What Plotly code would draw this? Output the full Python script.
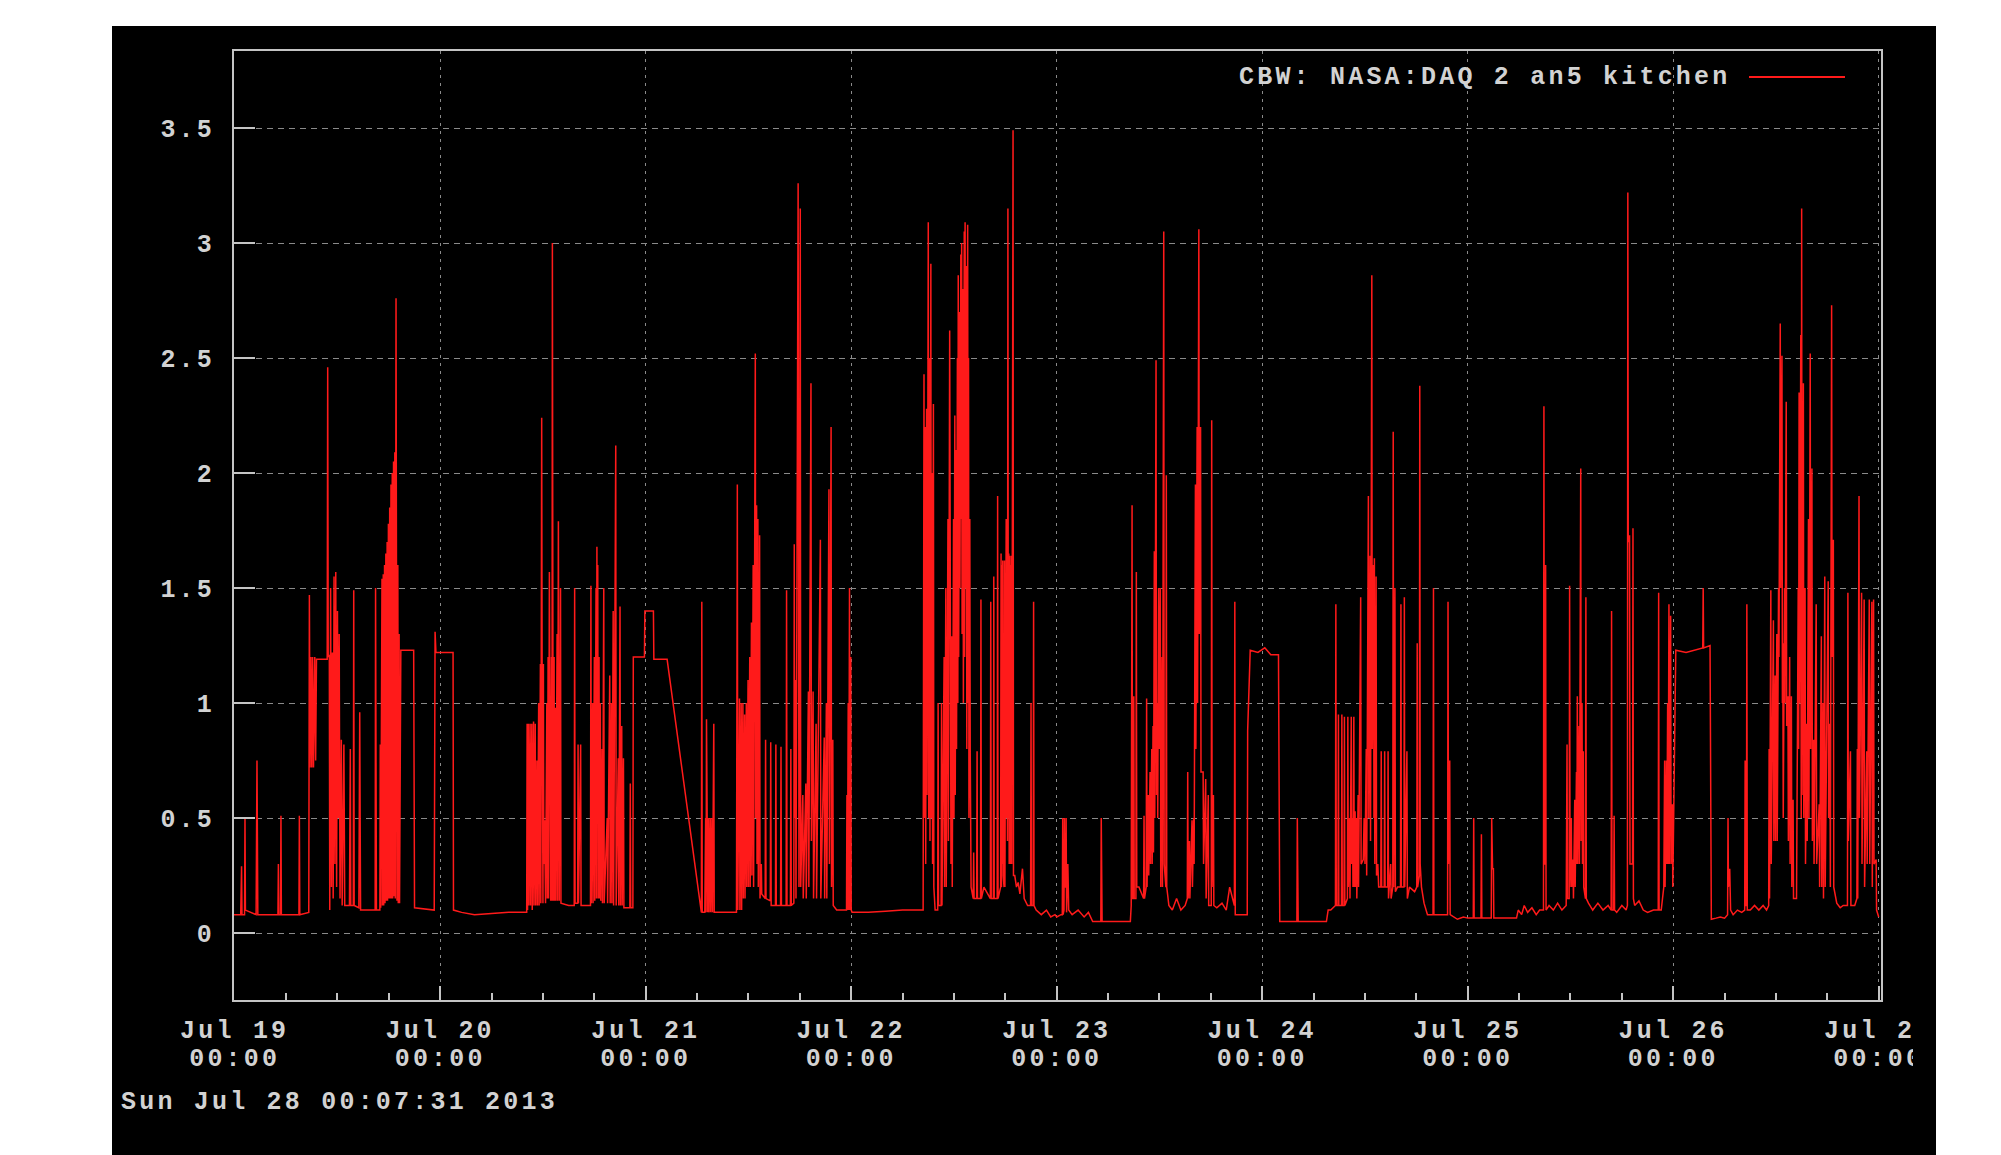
import plotly.graph_objects as go
import pandas as pd

# ---------------- data: (hours since Jul 19 00:00, value) ----------------
jul19 = [(-0.1,0.08),(0.7,0.08),(0.8,0.29),(0.85,0.08),(1.15,0.08),(1.2,0.5),(1.25,0.1),(2.5,0.08),(2.55,0.42),(2.6,0.75),(2.65,0.42),(2.7,0.08),
(5.05,0.08),(5.1,0.3),(5.15,0.08),(5.35,0.08),(5.4,0.51),(5.45,0.08),(7.5,0.08),(7.55,0.51),(7.6,0.08),
(8.65,0.09),(8.72,1.47),(8.8,0.72),(8.9,1.2),(9.0,0.72),(9.1,1.2),(9.2,0.72),(9.35,1.2),(9.45,0.75),(9.55,1.19),(10.8,1.19),(10.86,2.46),(10.92,1.2),(11.05,1.21),
(11.1,0.1),(11.2,1.5),(11.3,0.2),(11.4,1.22),(11.5,0.15),(11.6,1.55),(11.7,0.3),(11.8,1.57),(11.9,0.2),(12.0,1.4),(12.1,0.5),(12.2,1.3),(12.3,0.15),(12.45,0.84),(12.55,0.12),(12.75,0.82),(12.85,0.12),
(13.4,0.12),(13.5,0.8),(13.55,0.12),(13.85,0.12),(13.9,1.49),(13.95,0.12),(14.5,0.11),(14.6,0.96),(14.65,0.5),(14.7,0.1),(16.4,0.1),(16.45,1.5),(16.55,0.1),(16.95,0.1),(17.0,0.82),(17.05,0.11),
(17.2,1.54),(17.25,0.12),(17.35,1.56),(17.4,0.12),(17.5,1.6),(17.55,0.13),(17.65,1.65),(17.7,0.14),(17.8,1.7),(17.85,0.14),(17.95,1.78),(18.0,0.15),(18.1,1.85),(18.15,0.15),(18.25,1.95),(18.3,0.15),(18.4,2.0),(18.45,0.15),(18.55,2.05),(18.6,0.16),(18.7,2.09),(18.75,0.15),(18.84,2.76),(18.9,1.9),(18.95,0.14),(19.05,1.6),(19.1,0.13),(19.2,1.3),(19.25,0.13),(19.4,1.23),(20.9,1.23),(21.0,0.11),
(23.3,0.1),(23.4,1.31),(23.5,1.22),(25.5,1.22),(25.55,0.1)]

jul20 = [(26.5,0.09),(28.0,0.08),(30.0,0.085),(32.0,0.09),(34.1,0.09),
(34.15,0.91),(34.2,0.1),(34.3,0.91),(34.35,0.12),(34.5,0.91),(34.55,0.12),(34.7,0.91),(34.75,0.1),(34.9,0.92),(34.95,0.12),(35.1,0.91),(35.15,0.12),(35.3,0.75),(35.35,0.12),(35.5,1.0),(35.55,0.12),(35.7,1.17),(35.75,0.13),(35.85,2.24),(35.9,1.17),(36.0,0.13),(36.05,1.17),(36.1,0.3),(36.2,0.49),(36.3,0.13),(36.45,1.0),(36.5,0.15),(36.6,1.2),(36.65,0.15),(36.75,1.57),(36.8,1.2),(36.9,0.14),(37.0,1.2),(37.05,0.14),(37.1,3.0),(37.15,0.9),(37.2,0.14),(37.3,1.2),(37.35,0.14),(37.45,0.98),(37.5,0.14),(37.65,1.3),(37.7,0.14),(37.8,1.79),(37.85,0.9),(37.9,0.14),(38.05,1.5),(38.1,0.13),
(39.0,0.12),(39.65,0.12),(39.7,1.5),(39.75,0.13),(40.05,0.13),(40.1,0.82),(40.15,0.13),(40.4,0.82),(40.45,0.12),
(41.55,0.12),(41.6,1.51),(41.65,0.13),(41.8,1.0),(41.85,0.13),(42.0,1.2),(42.05,0.14),(42.2,1.5),(42.25,0.15),(42.3,1.68),(42.35,0.5),(42.4,1.6),(42.45,0.15),(42.55,1.2),(42.6,0.15),(42.7,1.0),(42.75,0.14),(42.9,0.8),(42.95,0.13),(43.1,1.5),(43.15,0.13),(43.5,0.5),(43.55,0.13),(43.8,1.12),(43.85,0.13),(44.0,1.0),(44.05,0.13),(44.2,1.4),(44.25,0.12),(44.5,2.12),(44.55,0.12),(44.8,0.76),(44.85,0.12),(45.0,1.42),(45.05,0.12),(45.2,0.9),(45.25,0.12),(45.4,0.76),(45.45,0.11),(46.15,0.11),(46.2,0.65),(46.25,0.11),(46.5,0.11),(46.55,1.2),(47.85,1.2),(47.9,1.4),(48.9,1.4),(48.95,1.19),(50.5,1.19)]

jul21 = [(54.5,0.09),(54.55,1.44),(54.6,0.09),(54.9,0.09),(55.0,0.5),(55.05,0.09),(55.1,0.93),(55.15,0.5),(55.25,0.09),(55.35,0.5),(55.4,0.09),(55.55,0.5),(55.6,0.09),(55.75,0.5),(55.8,0.09),(55.95,0.91),(56.0,0.09),(58.6,0.09),
(58.7,1.95),(58.75,0.1),(58.95,1.02),(59.0,0.1),(59.15,1.0),(59.2,0.1),(59.35,1.0),(59.4,0.15),(59.55,0.95),(59.6,0.15),(59.75,1.0),(59.8,0.2),(59.95,1.1),(60.0,0.2),(60.15,1.2),(60.2,0.2),(60.35,1.35),(60.4,0.25),(60.55,1.6),(60.6,0.2),(60.75,2.1),(60.8,2.52),(60.85,0.5),(60.95,1.86),(61.0,0.3),(61.1,1.8),(61.15,0.2),(61.3,1.73),(61.35,0.15),(61.5,0.3),(61.55,0.17),
(61.95,0.15),(62.0,0.84),(62.05,0.15),(62.55,0.14),(62.6,0.83),(62.65,0.12),(63.15,0.12),(63.2,0.82),(63.25,0.12),(63.75,0.12),(63.8,0.81),(63.85,0.12),(64.4,0.12),(64.45,1.49),(64.5,0.12),(64.9,0.12),(64.95,0.8),(65.0,0.12),(65.3,0.13),(65.35,1.69),(65.4,0.5),(65.5,1.1),(65.55,0.15),(65.8,3.26),(65.85,1.7),(65.9,0.2),(66.05,3.15),(66.1,0.2),(66.35,0.6),(66.4,0.15),(66.7,0.65),(66.75,0.15),(67.0,1.05),(67.05,0.2),(67.3,2.39),(67.35,0.4),(67.55,1.05),(67.6,0.15),(67.9,0.91),(67.95,0.15),(68.4,1.71),(68.45,0.15),(68.85,0.85),(68.9,0.15),(69.1,1.0),(69.15,0.15),(69.4,1.93),(69.45,0.3),(69.65,2.2),(69.7,0.2),(69.85,0.84),(69.9,0.12),(70.3,0.1),
(71.45,0.1),(71.5,0.6),(71.55,0.1),(71.65,1.0),(71.7,0.1),(71.8,1.5),(71.85,0.1),(71.95,1.2),(72.0,0.1),(72.1,0.09)]

jul22 = [(74.0,0.09),(76.0,0.095),(78.0,0.1),(80.4,0.1),
(80.5,2.43),(80.55,0.5),(80.65,2.2),(80.7,0.3),(80.8,2.28),(80.85,0.6),(80.95,2.0),(81.0,3.09),(81.05,0.5),(81.15,2.5),(81.2,0.4),(81.3,2.91),(81.35,0.5),(81.45,2.0),(81.5,0.3),(81.6,2.3),(81.65,0.2),(81.8,0.1),
(82.1,0.1),(82.15,1.0),(82.2,0.12),(82.5,0.12),(82.55,1.0),(82.6,0.12),(82.85,1.2),(82.9,0.2),(83.05,1.5),(83.1,0.2),(83.3,1.8),(83.35,0.4),(83.5,2.62),(83.55,1.29),(83.65,0.3),(83.75,1.29),(83.8,0.2),(83.95,1.8),(84.0,0.5),(84.1,2.25),(84.15,0.6),(84.25,2.1),(84.3,0.8),(84.4,2.5),(84.45,1.0),(84.5,2.86),(84.55,1.2),(84.65,2.7),(84.7,1.5),(84.8,2.95),(84.85,1.8),(84.9,3.0),(84.95,1.3),(85.05,2.8),(85.1,1.0),(85.2,3.05),(85.25,1.2),(85.3,3.09),(85.35,1.5),(85.45,2.9),(85.5,0.8),(85.6,3.08),(85.65,1.0),(85.7,2.5),(85.75,0.5),(85.85,1.8),(85.9,0.79),(86.0,0.2),
(86.25,0.15),(86.3,0.35),(86.35,0.15),(86.65,0.15),(86.7,0.79),(86.75,0.15),(87.1,0.15),(87.15,1.45),(87.2,0.15),(87.5,0.2),(88.25,0.15),(88.3,1.44),(88.35,0.15),(88.6,0.15),(88.65,1.55),(88.7,0.15),(89.05,0.15),(89.1,1.9),(89.15,0.15),(89.45,0.2),(89.5,1.65),(89.55,0.2),(89.6,1.6),(89.65,0.3),(89.7,1.62),(89.75,0.25),(89.85,0.2),(89.9,1.62),(89.95,0.2),(90.1,1.8),(90.15,0.5),(90.2,1.6),(90.25,0.4),(90.3,3.15),(90.35,0.5),(90.4,1.65),(90.45,0.3),(90.5,1.64),(90.55,0.3),(90.6,1.6),(90.65,0.3),(90.7,1.64),(90.75,0.3),(90.9,3.49),(90.95,0.25),(91.1,0.25),(91.3,0.2),(91.5,0.22),(91.7,0.17),(92.0,0.28),(92.2,0.15),(92.6,0.12),(92.95,0.12),(93.0,1.0),(93.05,0.12),(93.25,0.12),(93.3,1.44),(93.35,0.12),(93.6,0.1),(94.2,0.08),(94.8,0.1),(95.3,0.07),(95.8,0.08)]

jul23 = [(96.0,0.07),(96.5,0.08),(96.65,0.08),(96.7,0.5),(96.75,0.08),(96.85,0.1),(96.9,0.5),(96.95,0.2),(97.05,0.2),(97.1,0.5),(97.15,0.09),(97.3,0.3),(97.4,0.1),(97.8,0.08),(98.5,0.1),(99.2,0.07),(99.7,0.09),(100.2,0.05),(101.15,0.05),(101.2,0.5),(101.25,0.28),(101.3,0.05),(104.6,0.05),
(104.7,0.12),(104.8,1.86),(104.85,0.15),(104.95,0.15),(105.0,1.03),(105.05,0.15),(105.25,0.15),(105.3,1.57),(105.35,0.2),(105.6,0.2),(106.15,0.15),(106.2,0.51),(106.25,0.15),(106.45,0.2),(106.5,1.02),(106.55,0.2),(106.7,0.6),(106.75,0.25),(106.9,0.7),(106.95,0.3),(107.1,0.8),(107.15,0.3),(107.25,0.9),(107.3,0.35),(107.4,1.66),(107.45,0.5),(107.6,2.49),(107.65,0.6),(107.75,1.0),(107.8,0.5),(107.9,1.5),(107.95,0.8),(108.1,1.5),(108.15,0.2),(108.3,1.2),(108.35,0.2),(108.5,3.05),(108.55,0.3),(108.75,0.2),(108.8,1.99),(108.85,0.2),(109.1,0.12),(109.5,0.1),(110.0,0.15),(110.5,0.1),(111.0,0.12),
(111.25,0.15),(111.3,0.7),(111.35,0.15),(111.5,0.4),(111.55,0.15),(111.8,0.49),(111.85,0.2),(112.0,0.5),(112.05,0.3),(112.2,1.95),(112.25,0.8),(112.4,2.2),(112.45,1.0),(112.6,3.06),(112.65,1.3),(112.8,2.2),(112.85,0.7),(113.1,0.7),(113.15,0.3),(113.4,0.67),(113.45,0.15),(113.7,0.6),(113.75,0.12),(114.05,0.12),(114.1,2.23),(114.15,0.2),(114.3,0.6),(114.35,0.12),(114.7,0.11),(115.3,0.13),(115.8,0.1),(116.2,0.2),(116.5,0.15),(116.75,0.12),(116.8,1.44),(116.85,0.08),(118.25,0.08),(118.3,0.88),(118.6,1.23),(119.5,1.22),(120.3,1.24),(121.0,1.21),(121.9,1.21),(122.05,0.05),(124.05,0.05),(124.1,0.5),(124.15,0.28),(124.2,0.05),(127.5,0.05)]

jul24 = [(127.7,0.1),(128.0,0.1),(128.55,0.12),(128.6,1.43),(128.65,0.12),(128.85,0.12),(128.9,0.95),(128.95,0.12),(129.25,0.12),(129.3,0.95),(129.35,0.12),(129.55,0.12),(129.6,0.94),(129.65,0.12),(129.95,0.15),(130.0,0.94),(130.05,0.2),(130.2,0.5),(130.25,0.15),(130.4,0.94),(130.45,0.3),(130.55,0.5),(130.6,0.2),(130.7,0.94),(130.75,0.2),(130.85,0.53),(130.9,0.2),(131.0,0.5),(131.05,0.15),(131.2,0.6),(131.25,0.2),(131.5,1.46),(131.55,0.3),(131.8,0.32),(131.9,0.5),(132.0,0.3),(132.15,0.8),(132.2,0.25),(132.4,1.9),(132.45,0.5),(132.6,1.64),(132.65,0.4),(132.8,2.86),(132.85,0.8),(133.0,1.6),(133.05,0.5),(133.1,1.63),(133.15,0.3),(133.3,1.55),(133.35,0.25),(133.5,0.3),(133.6,0.2),(133.85,0.2),(133.9,0.79),(133.95,0.2),(134.25,0.2),(134.3,0.79),(134.35,0.2),(134.65,0.2),(134.7,0.79),(134.75,0.15),(135.0,0.3),(135.05,0.15),(135.25,0.2),(135.3,2.18),(135.35,0.2),(135.5,1.5),(135.55,0.18),(135.8,0.2),(136.15,0.2),(136.2,1.43),(136.25,0.2),(136.55,0.2),(136.6,1.46),(136.65,0.2),(136.9,0.79),(136.95,0.15),(137.2,0.2),(137.8,0.18),(138.05,0.2),(138.1,1.26),(138.15,0.2),(138.35,0.25),(138.4,2.38),(138.45,0.3),(138.6,0.2),(138.9,0.13),(139.3,0.08),(139.95,0.08),(140.0,1.5),(140.05,0.08),(141.65,0.08),(141.7,1.44),(141.75,0.3),(141.9,0.75),(141.95,0.08),(142.8,0.06),(143.5,0.07)]

jul25 = [(144.0,0.065),(144.65,0.065),(144.7,0.5),(144.75,0.065),(145.55,0.065),(145.6,0.43),(145.65,0.065),(146.75,0.065),(146.8,0.5),(146.9,0.28),(147.0,0.28),(147.05,0.065),(149.7,0.065),(149.9,0.1),(150.3,0.08),(150.6,0.12),(151.0,0.09),(151.5,0.11),(152.0,0.08),(152.4,0.1),(152.85,0.1),(152.9,2.29),(152.95,0.3),(153.05,0.3),(153.1,1.6),(153.15,0.1),(153.5,0.12),(154.0,0.1),(154.5,0.13),(155.0,0.1),(155.5,0.12),(155.6,0.82),(155.65,0.15),(155.85,0.15),(155.9,1.51),(155.95,0.2),(156.1,0.5),(156.15,0.2),(156.3,0.32),(156.35,0.15),(156.5,0.58),(156.55,0.2),(156.7,0.7),(156.75,0.3),(156.8,1.03),(156.85,0.3),(157.0,0.9),(157.05,0.3),(157.2,2.02),(157.25,0.4),(157.35,1.0),(157.4,0.3),(157.5,0.79),(157.55,0.2),(157.75,0.15),(157.8,1.46),(157.85,0.15),(158.1,0.13),(158.6,0.1),(159.2,0.13),(159.8,0.1),(160.4,0.12),(160.75,0.1),(160.8,1.4),(160.85,0.1),(161.05,0.1),(161.1,0.51),(161.15,0.1),(161.4,0.09),(162.0,0.12),(162.5,0.1),(162.65,0.12),(162.7,3.22),(162.75,1.7),(162.9,1.73),(162.95,0.3),(163.25,0.3),(163.3,1.76),(163.35,0.15),(163.5,0.12),(164.0,0.14),(164.5,0.1),(165.0,0.09),(165.7,0.1),(166.25,0.1),(166.3,1.48),(166.35,0.1),(166.6,0.1),(166.9,0.2),(167.0,0.75),(167.05,0.2),(167.2,0.75),(167.25,0.3),(167.35,1.0),(167.4,0.3),(167.5,1.43),(167.55,0.3),(167.7,1.38),(167.75,0.3),(167.9,0.56),(167.95,0.2)]

jul26 = [(168.3,1.23),(169.5,1.22),(170.5,1.23),(171.45,1.24),(171.5,1.5),(171.55,1.24),(172.3,1.25),(172.45,0.06),(173.0,0.065),(173.5,0.07),(174.0,0.065),(174.35,0.08),(174.4,0.5),(174.45,0.2),(174.6,0.28),(174.7,0.1),(175.0,0.08),(175.5,0.1),(176.0,0.09),(176.35,0.1),(176.4,0.75),(176.45,0.12),(176.55,0.12),(176.6,1.43),(176.65,0.1),(177.0,0.1),(177.5,0.12),(178.0,0.1),(178.5,0.12),(178.9,0.1),(179.15,0.12),(179.2,0.8),(179.25,0.15),(179.4,1.49),(179.45,0.3),(179.7,1.36),(179.75,0.4),(179.9,1.12),(179.95,0.4),(180.1,1.3),(180.15,0.4),(180.3,1.5),(180.35,1.2),(180.5,2.65),(180.55,1.5),(180.7,2.51),(180.75,1.0),(180.8,1.26),(180.85,0.5),(181.0,1.5),(181.05,1.0),(181.2,2.31),(181.25,0.9),(181.4,1.03),(181.45,0.4),(181.6,1.2),(181.65,0.3),(181.8,1.03),(181.85,0.2),(182.0,0.58),(182.05,0.15),(182.4,0.15),(182.6,1.5),(182.65,0.8),(182.7,2.35),(182.75,1.0),(182.9,2.6),(182.95,0.5),(183.0,3.15),(183.05,0.6),(183.2,2.39),(183.25,0.5),(183.4,1.5),(183.45,0.3),(183.6,0.91),(183.65,0.4),(183.8,1.8),(183.85,0.5),(184.0,2.52),(184.05,0.8),(184.2,2.02),(184.25,0.4),(184.4,0.84),(184.45,0.3),(184.7,1.43),(184.75,0.3),(185.05,0.56),(185.1,0.2),(185.3,1.29),(185.35,0.2),(185.5,1.0),(185.55,0.15),(185.7,1.55),(185.75,0.2),(186.1,1.53),(186.15,0.5),(186.3,0.91),(186.35,0.2),(186.5,2.73),(186.55,1.2),(186.7,1.71),(186.75,0.2),(187.1,0.13),(187.5,0.11),(187.85,0.12),(188.35,0.12),(188.4,1.48),(188.45,0.4),(188.7,0.79),(188.75,0.12),(189.2,0.12),(189.45,0.15),(189.5,0.8),(189.55,0.15),(189.7,1.9),(189.75,0.5),(190.0,1.48),(190.05,0.3),(190.3,1.45),(190.35,0.2),(190.6,0.79),(190.65,0.3),(190.9,1.45),(190.95,0.3),(191.2,1.44),(191.25,0.2),(191.4,1.45),(191.45,0.3),(191.7,0.32),(191.75,0.1),(192.0,0.07)]

day_labels = ["Jul 19", "Jul 20", "Jul 21", "Jul 22", "Jul 23", "Jul 24", "Jul 25", "Jul 26", "Jul 27"]
time_labels = ["00:00"] * 9
y_ticks = [0, 0.5, 1, 1.5, 2, 2.5, 3, 3.5]
y_labels = ["0", "0.5", "1", "1.5", "2", "2.5", "3", "3.5"]
series_name = "CBW: NASA:DAQ 2 an5 kitchen"
stamp = "Sun Jul 28 00:07:31 2013"

# ---------------- build ----------------
segments = [jul19, jul20, jul21, jul22, jul23, jul24, jul25, jul26]
hours = [h for seg in segments for h, _ in seg]
values = [v for seg in segments for _, v in seg]
start = pd.Timestamp("2013-07-19 00:00")
times = start + pd.to_timedelta(hours, unit="h")
tick_days = pd.date_range("2013-07-19", periods=len(day_labels), freq="D")
x_range = [start - pd.Timedelta(minutes=5), start + pd.Timedelta(hours=192, minutes=16)]

# screen geometry (window 2001x1155); the page body has an 8px margin
SW, SH, OFF = 2001, 1155, 8
PL, PR, PT, PB = 234, 1881, 51, 1000


def px(x):
    return (x - PL) / (PR - PL)


def py(y):
    return (PB - y) / (PB - PT)


TXT = "#d2d2d2"
FRAME = "#c4c4c4"
GRID = "#8a8a8a"
RED = "#ff1a1a"
FONT = dict(family="Liberation Mono", size=25, color=TXT, weight="bold")


def spaced(s):
    return f'<span style="letter-spacing:3.2px">{s}</span>'


fig = go.Figure()
fig.add_trace(go.Scatter(x=times, y=values, mode="lines", line=dict(color=RED, width=1.5),
                         showlegend=False, hoverinfo="skip"))
fig.add_trace(go.Scatter(x=[times[0]], y=[values[0]], xaxis="x2", mode="lines",
                         line=dict(color="rgba(0,0,0,0)"), showlegend=False, hoverinfo="skip"))

fig.update_layout(
    width=SW - OFF, height=SH - OFF,
    margin=dict(l=PL - OFF, r=SW - PR, t=PT - OFF, b=SH - PB, pad=0),
    paper_bgcolor="white", plot_bgcolor="black",
    xaxis=dict(
        type="date", range=x_range, tickmode="array", tickvals=tick_days,
        ticktext=[spaced(t) for t in day_labels],
        ticks="inside", ticklen=14, tickwidth=2, tickcolor=FRAME,
        showline=True, linecolor=FRAME, linewidth=2, mirror=True,
        showgrid=True, gridcolor=GRID, gridwidth=1, griddash="3px,5px",
        zeroline=False, tickfont=FONT, ticklabelstandoff=6,
        minor=dict(ticks="inside", ticklen=7, tickwidth=2, tickcolor=FRAME,
                   tick0="2013-07-19", dtick=6 * 3600 * 1000, showgrid=False),
    ),
    xaxis2=dict(
        type="date", overlaying="x", anchor="y", side="bottom", range=x_range,
        tickmode="array", tickvals=tick_days, ticktext=[spaced(t) for t in time_labels],
        ticks="", showgrid=False, showline=False, zeroline=False,
        tickfont=FONT, ticklabelstandoff=40,
    ),
    yaxis=dict(
        range=[-0.291, 3.835], tickmode="array", tickvals=y_ticks,
        ticktext=[spaced(t) for t in y_labels],
        ticks="inside", ticklen=21, tickwidth=2, tickcolor=FRAME,
        showline=True, linecolor=FRAME, linewidth=2, mirror=True,
        showgrid=True, gridcolor=GRID, gridwidth=1, griddash="6px,5px",
        zeroline=False, tickfont=FONT, ticklabelstandoff=12,
    ),
    font=FONT,
)

shapes = [
    dict(type="rect", xref="paper", yref="paper", layer="below",
         x0=px(112), x1=px(1936), y0=py(SH + 5), y1=py(26), fillcolor="black", line=dict(width=0)),
    dict(type="rect", xref="paper", yref="paper", layer="above",
         x0=px(1913), x1=px(1936), y0=py(SH + 5), y1=py(PB + 3), fillcolor="black", line=dict(width=0)),
    dict(type="rect", xref="paper", yref="paper", layer="above",
         x0=px(1936), x1=px(SW + 5), y0=py(SH + 5), y1=py(0), fillcolor="white", line=dict(width=0)),
    dict(type="line", xref="paper", yref="paper", layer="above",
         x0=px(1749), x1=px(1845), y0=py(77), y1=py(77), line=dict(color=RED, width=2)),
]
fig.update_layout(shapes=shapes)

fig.add_annotation(text=spaced(series_name), xref="paper", yref="paper", x=px(1732), y=py(78),
                   xanchor="right", yanchor="middle", showarrow=False, font=FONT)
fig.add_annotation(text=spaced(stamp), xref="paper", yref="paper", x=px(119), y=py(1102),
                   xanchor="left", yanchor="middle", showarrow=False, font=FONT)

fig.write_html("out.html")
